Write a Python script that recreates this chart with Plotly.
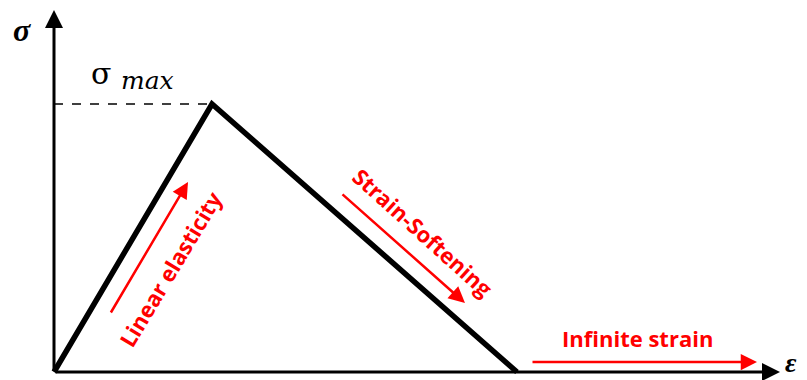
import plotly.graph_objects as go

# Data (arbitrary units, stress-strain curve)
strain = [0, 158, 463]
stress = [0, 268, 0]
sigma_max = 268
peak_strain = 158

axis_x_end = 726
axis_y_end = 362

labels = {
    "sigma": "σ",
    "eps": "ε",
    "lin": "Linear elasticity",
    "soft": "Strain-Softening",
    "inf": "Infinite strain",
}

RED = "#ff0000"

fig = go.Figure()
fig.add_trace(go.Scatter(x=strain, y=stress, mode="lines",
                         line=dict(color="black", width=5.5), hoverinfo="skip"))
fig.add_trace(go.Scatter(x=[0, peak_strain], y=[sigma_max, sigma_max], mode="lines",
                         line=dict(color="black", width=1.3, dash="dash"), hoverinfo="skip"))

ann = []
# axes arrows
ann.append(dict(x=axis_x_end, y=0, ax=0, ay=0, xref="x", yref="y", axref="x", ayref="y",
                showarrow=True, arrowhead=2, arrowsize=1.2, arrowwidth=3, arrowcolor="black", text=""))
ann.append(dict(x=0, y=axis_y_end, ax=0, ay=0, xref="x", yref="y", axref="x", ayref="y",
                showarrow=True, arrowhead=2, arrowsize=1.2, arrowwidth=3, arrowcolor="black", text=""))
# red arrows
ann.append(dict(x=134, y=190, ax=56, ay=58, xref="x", yref="y", axref="x", ayref="y",
                showarrow=True, arrowhead=2, arrowsize=1.3, arrowwidth=2.5, arrowcolor=RED, text=""))
ann.append(dict(x=411, y=69, ax=287, ay=179, xref="x", yref="y", axref="x", ayref="y",
                showarrow=True, arrowhead=2, arrowsize=1.3, arrowwidth=2.5, arrowcolor=RED, text=""))
ann.append(dict(x=703, y=10, ax=477, ay=10, xref="x", yref="y", axref="x", ayref="y",
                showarrow=True, arrowhead=2, arrowsize=1.3, arrowwidth=2.5, arrowcolor=RED, text=""))
# texts
bold_red = dict(family="Open Sans", size=22, color=RED, weight="bold")
ann.append(dict(x=116, y=103, xref="x", yref="y", text=labels["lin"], showarrow=False,
                textangle=-59, font=bold_red))
ann.append(dict(x=369, y=140, xref="x", yref="y", text=labels["soft"], showarrow=False,
                textangle=42, font=bold_red))
ann.append(dict(x=583, y=34, xref="x", yref="y", text=labels["inf"], showarrow=False,
                font=bold_red))
ann.append(dict(x=-32, y=342, xref="x", yref="y", text="<b><i>" + labels["sigma"] + "</i></b>",
                showarrow=False, font=dict(family="Liberation Serif", size=32, color="black")))
ann.append(dict(x=729, y=10, xref="x", yref="y", text="<b><i>" + labels["eps"] + "</i></b>",
                showarrow=False, xanchor="left", font=dict(family="Liberation Serif", size=28, color="black")))
ann.append(dict(x=47, y=299, xref="x", yref="y", text=labels["sigma"],
                showarrow=False, font=dict(family="DejaVu Serif", size=30, color="black")))
ann.append(dict(x=93, y=292, xref="x", yref="y", text="<i>max</i>",
                showarrow=False, font=dict(family="DejaVu Serif", size=25, color="black")))

fig.update_layout(
    width=799, height=372,
    margin=dict(l=0, r=0, t=0, b=0),
    paper_bgcolor="white", plot_bgcolor="white",
    showlegend=False,
    annotations=ann,
    xaxis=dict(range=[-46, 753], visible=False, fixedrange=True),
    yaxis=dict(range=[-8, 364], visible=False, fixedrange=True),
)
fig.write_html("out.html")
